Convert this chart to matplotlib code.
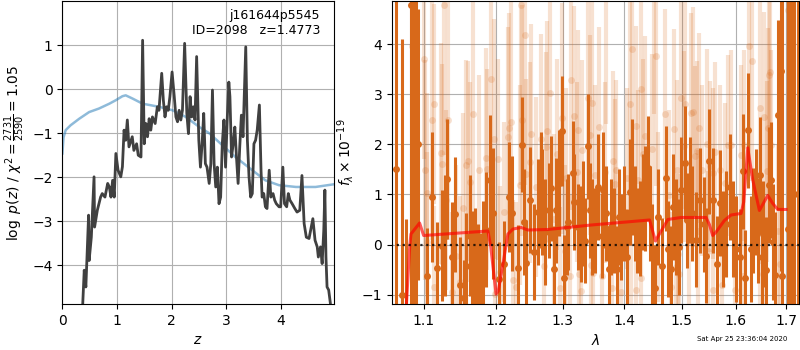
import numpy as np
import matplotlib
matplotlib.use("Agg")
import matplotlib.pyplot as plt
from matplotlib.ticker import NullLocator, FixedLocator, FixedFormatter

# --- redshift fit: log p(z) and scaled chi2 ---
z_pz = [0.37, 0.40, 0.43, 0.48, 0.49, 0.53, 0.58, 0.59, 0.64, 0.70, 0.73, 0.78, 0.83, 0.86,
        0.89, 0.92, 0.95, 0.98, 1.02, 1.07, 1.10, 1.13, 1.16, 1.19, 1.22, 1.28, 1.31, 1.36,
        1.39, 1.44, 1.47, 1.50, 1.53, 1.56, 1.59, 1.62, 1.65, 1.70, 1.74, 1.77, 1.82, 1.85,
        1.88, 1.91, 1.94, 1.97, 2.01, 2.05, 2.08, 2.11, 2.14, 2.17, 2.20, 2.24, 2.28, 2.31,
        2.34, 2.37, 2.40, 2.43, 2.46, 2.50, 2.53, 2.56, 2.59, 2.62, 2.65, 2.69, 2.72, 2.75,
        2.78, 2.81, 2.84, 2.87, 2.90, 2.93, 2.96, 2.99, 3.02, 3.05, 3.07, 3.10, 3.13, 3.16,
        3.19, 3.22, 3.25, 3.28, 3.31, 3.36, 3.39, 3.42, 3.45, 3.48, 3.51, 3.54, 3.57, 3.61,
        3.64, 3.66, 3.69, 3.72, 3.75, 3.79, 3.82, 3.86, 3.89, 3.92, 3.97, 4.00, 4.04, 4.07,
        4.11, 4.14, 4.17, 4.21, 4.26, 4.30, 4.35, 4.39, 4.43, 4.47, 4.52, 4.56, 4.59, 4.63,
        4.67, 4.69, 4.73, 4.76, 4.79, 4.81, 4.83, 4.85, 4.88, 4.92]
log_pz = [-4.95, -4.11, -4.49, -2.86, -3.89, -3.36, -1.99, -3.13, -2.75, -2.45, -2.37, -2.45,
          -2.14, -2.22, -2.45, -2.07, -2.45, -1.46, -1.84, -1.99, -1.76, -0.93, -1.16, -0.70,
          -1.31, -1.08, -1.39, -1.24, -1.50, -1.54, 1.11, -1.24, -0.78, -1.08, -0.67, -0.93,
          -0.63, -0.78, -0.40, -0.48, 0.36, -0.25, -0.63, -0.40, -0.48, -0.17, 0.39, -0.17,
          -0.63, -0.74, -0.48, -0.70, -0.48, 1.04, -0.55, -1.01, -0.17, -0.63, -0.40, -0.70,
          0.74, -1.16, -1.77, -1.24, -0.55, -1.69, -1.77, -2.14, -1.69, -0.02, -1.69, -2.22,
          -1.77, -2.60, -2.45, -1.24, -0.70, -1.77, -0.70, 0.16, -0.17, -1.54, -1.24, -0.86,
          -1.54, -2.14, -1.31, -0.59, -1.08, 0.96, -1.16, -1.99, -2.45, -2.37, -1.24, -1.16,
          -0.93, -0.36, -1.84, -2.45, -2.37, -2.67, -2.71, -1.84, -2.45, -2.37, -2.52, -2.60,
          -2.67, -2.67, -1.77, -2.60, -2.67, -2.37, -2.52, -2.60, -2.71, -2.79, -2.75, -1.96,
          -3.05, -3.36, -3.39, -3.13, -2.94, -3.43, -3.58, -3.81, -3.58, -3.96, -3.20, -2.29,
          -3.81, -4.49, -4.56, -4.95]

z_chi = [0.0, 0.02, 0.06, 0.15, 0.31, 0.49, 0.67, 0.86, 0.98, 1.10, 1.16, 1.28, 1.47, 1.77,
         2.02, 2.26, 2.51, 2.69, 2.93, 3.17, 3.48, 3.72, 3.97, 4.28, 4.64, 4.97]
chi_scaled = [-1.46, -1.10, -0.93, -0.82, -0.67, -0.52, -0.44, -0.33, -0.25, -0.16, -0.14,
              -0.21, -0.33, -0.40, -0.48, -0.63, -0.86, -1.00, -1.27, -1.54, -1.84, -2.07,
              -2.18, -2.22, -2.22, -2.16]

# --- 1D spectrum, first grism (solid points) ---
lam_a = [1.0637, 1.0713, 1.0767, 1.0830, 1.0860, 1.0894, 1.0930,
         1.1046, 1.1115, 1.1182, 1.1245, 1.1280, 1.1315, 1.1375, 1.1420, 1.1490, 1.1546,
         1.1580, 1.1630, 1.1660, 1.1700, 1.1736, 1.1790, 1.1815, 1.1860, 1.1917, 1.1950,
         1.2045, 1.2120, 1.2195, 1.2235, 1.2320, 1.2375, 1.2410, 1.2445, 1.2495, 1.2560,
         1.2620, 1.2660, 1.2685, 1.2720, 1.2785, 1.2825, 1.2860, 1.2900, 1.2935, 1.2990,
         1.3025, 1.3060, 1.3085, 1.3160, 1.3185, 1.3245, 1.3285, 1.3325, 1.3360, 1.3395,
         1.3435, 1.3465, 1.3520, 1.3564, 1.3620, 1.3650, 1.3700, 1.3740, 1.3780, 1.3826,
         1.3870, 1.3910, 1.3950, 1.4000, 1.4047, 1.4090, 1.4134, 1.4174, 1.4220, 1.4267,
         1.4320, 1.4350, 1.4395, 1.4436, 1.4480, 1.4523, 1.4570, 1.4650, 1.4710, 1.4756,
         1.4800, 1.4843, 1.4900, 1.4940, 1.4990, 1.5050, 1.5090, 1.5140, 1.5190, 1.5260,
         1.5330, 1.5400, 1.5450, 1.5500, 1.5565, 1.5650, 1.5700, 1.5760, 1.5820, 1.5900,
         1.5950, 1.6000, 1.6080, 1.6145, 1.6180, 1.6245, 1.6296, 1.6330, 1.6390, 1.6430,
         1.6475, 1.6507, 1.6540, 1.6600, 1.6650, 1.6690, 1.6740, 1.6780,
         1.6830, 1.6890, 1.6920, 1.7030, 1.7100, 1.7170, 1.7240]
flux_a = [1.50, -1.00, -2.00, 4.79, 2.29, 1.87, 2.00,
          -0.62, 0.95, -0.46, -0.02, 0.18, 1.31, -0.25, 0.60, -0.80, -1.06,
          -0.42, 0.18, -0.29, -0.32, -0.54, -0.62, -0.19, 0.30, 1.29, 0.62,
          -0.69, -0.39, 0.95, 0.62, -0.46, 1.99, 0.45, -0.36, 0.89, -0.15,
          0.65, 1.09, 0.85, 0.25, 0.68, 1.12, -0.49, 0.68, 1.23, 2.26,
          -0.66, 0.35, 0.45, 1.42, 0.85, 0.35, 0.21, 0.62, 0.08, 1.96,
          0.68, 0.35, 0.28, 1.15, 0.18, 1.09, 0.62, -0.49, 0.35, 0.28,
          -0.49, 0.55, 0.15, 0.62, -0.25, 1.05, 1.35, 0.62, 0.28, 0.32,
          0.85, 0.92, 1.52, 0.62, -0.25, -0.86, 0.55, -0.42, 1.32, -0.09,
          -0.49, 0.75, 0.35, -0.05, 1.09, 1.62, 0.48, 1.09, 0.62, 0.10,
          0.88, 0.40, -0.22, 1.66, 0.88, -0.39, 0.83, 0.11, 0.41, 1.15,
          0.31, -0.09, -0.25, 1.46, -0.66, 2.28, -0.09, 0.48, 0.85, 0.28,
          1.39, -0.25, 0.21, -0.50, 1.19, 1.29, 0.05, -0.60,
          2.59, 3.47, -0.62, 0.31, 1.00, 1.00, 1.00]
err_a = [8.0, 5.1, 2.5, 8.0, 8.0, 6.0, 2.7,
         0.95, 1.30, 0.90, 1.10, 1.20, 1.20, 1.10, 1.15, 0.95, 0.75,
         1.05, 1.20, 0.95, 1.05, 0.95, 0.85, 1.05, 1.15, 1.30, 1.30,
         0.75, 0.85, 1.10, 1.15, 0.85, 0.95, 1.05, 0.85, 1.05, 0.95,
         1.05, 1.15, 1.05, 1.05, 0.95, 1.05, 0.85, 1.05, 1.05, 1.10,
         0.85, 0.95, 0.95, 1.05, 0.95, 0.85, 0.95, 1.05, 0.85, 1.05,
         0.95, 0.95, 0.85, 1.05, 0.85, 1.15, 0.95, 0.85, 0.95, 0.85,
         0.85, 0.95, 0.85, 0.95, 0.95, 1.05, 1.15, 0.95, 0.85, 0.95,
         0.95, 1.05, 1.05, 0.95, 1.05, 0.85, 0.95, 0.95, 1.05, 0.95,
         0.85, 1.05, 0.95, 0.95, 1.05, 1.15, 0.95, 1.05, 0.95, 0.95,
         1.05, 0.95, 0.95, 1.05, 1.05, 0.95, 1.05, 0.95, 1.05, 1.05,
         0.95, 1.05, 0.95, 1.15, 0.95, 1.15, 1.05, 1.05, 1.05, 1.05,
         1.15, 0.95, 1.05, 1.05, 1.15, 1.15, 1.15, 1.25,
         1.90, 4.00, 6.00, 8.00, 8.00, 8.00, 8.00]

# --- second grism (faint points) ---
lam_b = [1.0843, 1.1005, 1.1020, 1.1040, 1.1050, 1.1110, 1.1134, 1.1144, 1.1236, 1.1250,
         1.1273, 1.1296, 1.1330, 1.1375, 1.1440, 1.1490, 1.1537, 1.1580, 1.1606, 1.1630,
         1.1676, 1.1755, 1.1850, 1.1875, 1.1930, 1.1968, 1.1990,
         1.2035, 1.2060, 1.2120, 1.2175, 1.2185, 1.2220, 1.2250, 1.2295, 1.2350, 1.2360,
         1.2375, 1.2420, 1.2435, 1.2495, 1.2510, 1.2585, 1.2670, 1.2710, 1.2740, 1.2760,
         1.2810, 1.2860, 1.2910, 1.2950, 1.2985, 1.3035, 1.3045, 1.3120, 1.3135, 1.3170,
         1.3225, 1.3245, 1.3260, 1.3285, 1.3310, 1.3395, 1.3435, 1.3450, 1.3465,
         1.3480, 1.3506, 1.3580, 1.3620, 1.3680, 1.3700, 1.3800, 1.3814, 1.3840, 1.3855,
         1.3940, 1.4047, 1.4087, 1.4116, 1.4128, 1.4190, 1.4200, 1.4233, 1.4280, 1.4290,
         1.4320, 1.4350, 1.4465, 1.4500, 1.4540, 1.4580, 1.4700, 1.4767, 1.4800, 1.4860,
         1.4900, 1.4920, 1.4930, 1.4948, 1.4990, 1.5035, 1.5064, 1.5120, 1.5163, 1.5205,
         1.5236, 1.5267, 1.5285, 1.5310, 1.5360, 1.5453, 1.5470, 1.5516, 1.5565, 1.5570,
         1.5602, 1.5696, 1.5740, 1.5795, 1.5850, 1.5914, 1.5980, 1.6100, 1.6145, 1.6164,
         1.6257, 1.6320, 1.6474, 1.6480, 1.6540, 1.6550, 1.6605, 1.6625, 1.6650, 1.6680,
         1.6690, 1.6835, 1.6870, 1.7030]
flux_b = [3.97, 3.70, 1.49, 1.02, 0.05, 2.49, 2.81, -0.84, 1.82, 1.60,
          4.79, 0.89, 2.49, -0.95, -0.22, -0.74, 0.72, 1.58, 1.67, 1.25,
          2.61, 1.49, 1.72, 1.50, 3.31, 2.11, -0.98,
          1.70, -0.54, 0.65, 2.15, 2.33, 2.45, -0.71, -0.85, 1.19, 4.78,
          2.48, 4.18, 1.41, 1.64, 2.20, 1.15, 2.11, -0.42, 1.94, 2.26,
          3.03, 0.50, 1.80, -0.86, 2.52, -0.12, 1.32, -0.62, 3.28, 2.57,
          1.45, 2.29, -0.59, -0.93, 1.88, 2.92, 2.19, -0.40, 2.83,
          -0.56, 1.39, 2.35, -0.62, 1.44, 5.20, -0.86, 1.67, 1.20, 1.49,
          -0.95, 1.32, 2.80, 0.30, 3.90, 2.37, -0.91, 1.29, 3.10, -0.67,
          1.81, 2.16, 1.91, 5.40, 3.76, 0.55, 2.60, 0.99, -0.85, 2.31,
          -0.44, 1.49, -0.19, -0.59, 2.93, 1.96, 2.81, 0.08, 2.63, 2.64,
          1.76, 1.86, 0.28, 2.33, 1.48, 2.00, -0.13, 1.56, 1.42, -0.91,
          1.84, 1.48, -0.80, 1.23, 1.98, 1.99, -0.91, 1.79, -0.62, 1.98,
          3.96, 3.67, 2.73, -0.31, -0.59, 2.55, 1.46, 2.33, 3.39, 3.45,
          1.98, 0.28, -0.39, 4.69]
err_b = [4.0, 2.0, 2.2, 2.0, 1.8, 2.4, 2.0, 1.6, 2.2, 2.0,
         3.0, 1.8, 2.4, 1.6, 1.8, 1.7, 1.9, 2.1, 2.0, 2.0,
         2.6, 1.9, 2.2, 2.0, 2.8, 2.4, 1.6,
         2.0, 1.7, 1.8, 2.2, 2.3, 2.5, 1.6, 1.7, 2.0, 3.6,
         2.3, 3.0, 1.9, 2.0, 2.2, 1.8, 2.1, 1.6, 1.9, 2.2,
         2.6, 1.7, 1.9, 1.6, 2.3, 1.7, 1.8, 1.6, 2.6, 2.2,
         1.8, 2.0, 1.6, 1.5, 1.8, 2.3, 2.0, 1.6, 2.2,
         1.6, 1.8, 2.0, 1.6, 1.8, 2.8, 1.5, 1.8, 1.7, 1.8,
         1.5, 1.8, 2.1, 1.7, 2.6, 2.0, 1.5, 1.8, 2.3, 1.6,
         1.9, 2.0, 1.9, 2.8, 2.6, 1.7, 2.1, 1.7, 1.5, 2.0,
         1.6, 1.8, 1.6, 1.6, 2.2, 1.9, 2.1, 1.6, 2.0, 2.1,
         1.8, 1.8, 1.6, 1.9, 1.7, 1.9, 1.6, 1.7, 1.7, 1.5,
         1.8, 1.7, 1.5, 1.6, 1.8, 1.9, 1.5, 1.8, 1.6, 1.9,
         2.6, 2.4, 2.2, 1.7, 1.7, 2.1, 1.8, 2.0, 2.4, 2.4,
         1.9, 1.7, 1.7, 4.0]

# --- best-fit template ---
lam_model = [1.0773, 1.0817, 1.0834, 1.0947, 1.1000, 1.1883, 1.1924, 1.2000, 1.2031,
             1.2099, 1.2172, 1.2246, 1.2368, 1.2468, 1.2771, 1.3455, 1.4429, 1.4532,
             1.4565, 1.4750, 1.4985, 1.5442, 1.5504, 1.5566, 1.5629, 1.5786, 1.5913,
             1.6105, 1.6157, 1.6235, 1.6333, 1.6464, 1.6630, 1.6730, 1.6831, 1.7000]
flux_model = [-1.25, -0.05, 0.21, 0.43, 0.18, 0.27, -0.05, -0.99, -0.93,
              -0.39, 0.21, 0.31, 0.34, 0.29, 0.30, 0.39, 0.49, 0.07,
              0.14, 0.50, 0.54, 0.54, 0.40, 0.18, 0.25, 0.48, 0.59,
              0.62, 0.85, 1.93, 1.29, 0.68, 0.98, 0.82, 0.70, 0.70]

orange = '#d8691a'

fig = plt.figure(figsize=(8, 3.5), dpi=100)
ax1 = fig.add_axes([0.078, 0.131, 0.339, 0.866])
ax2 = fig.add_axes([0.49, 0.131, 0.509, 0.866])

ax1.plot(z_chi, chi_scaled, color='tab:blue', alpha=0.5, lw=1.8)
ax1.plot(z_pz, log_pz, color='0.25', lw=2)
ax1.set_xlim(0, 4.97)
ax1.set_ylim(-4.88, 2.0)
ax1.set_xticks([0, 1, 2, 3, 4])
ax1.set_yticks([-4, -3, -2, -1, 0, 1])
ax1.grid(True)
ax1.set_xlabel('$z$')
ax1.set_ylabel(r'$\log\ p(z)$ / $\chi^2=\frac{2731}{2590}=1.05$')
ax1.text(0.95, 0.975, 'j161644p5545\nID=2098   z=1.4773', transform=ax1.transAxes,
         ha='right', va='top', fontsize=9)

ax2.errorbar(lam_b, flux_b, yerr=err_b, fmt='o', color=orange, alpha=0.2,
             ms=5, elinewidth=3, mec='none')
ax2.errorbar(lam_a, flux_a, yerr=err_a, fmt='o', color=orange, ms=5,
             elinewidth=2.2, mec='none')
ax2.plot(lam_model, flux_model, color='r', alpha=0.65, lw=2.2, zorder=10)
ax2.plot([1.05, 1.73], [0, 0], color='k', ls=':', lw=1.6, alpha=0.8, zorder=11)
ax2.set_xscale('log')
ax2.set_xlim(1.059, 1.727)
ax2.set_ylim(-1.19, 4.86)
ax2.xaxis.set_major_locator(FixedLocator([1.1, 1.2, 1.3, 1.4, 1.5, 1.6, 1.7]))
ax2.xaxis.set_major_formatter(FixedFormatter(['1.1', '1.2', '1.3', '1.4', '1.5', '1.6', '1.7']))
ax2.xaxis.set_minor_locator(NullLocator())
ax2.set_yticks([-1, 0, 1, 2, 3, 4])
ax2.grid(True)
ax2.set_xlabel(r'$\lambda$')
ax2.set_ylabel(r'$f_\lambda\times10^{-19}$')

fig.text(0.984, 0.03, 'Sat Apr 25 23:36:04 2020', ha='right', va='center', fontsize=5)

fig.savefig('out.png', dpi=100)
